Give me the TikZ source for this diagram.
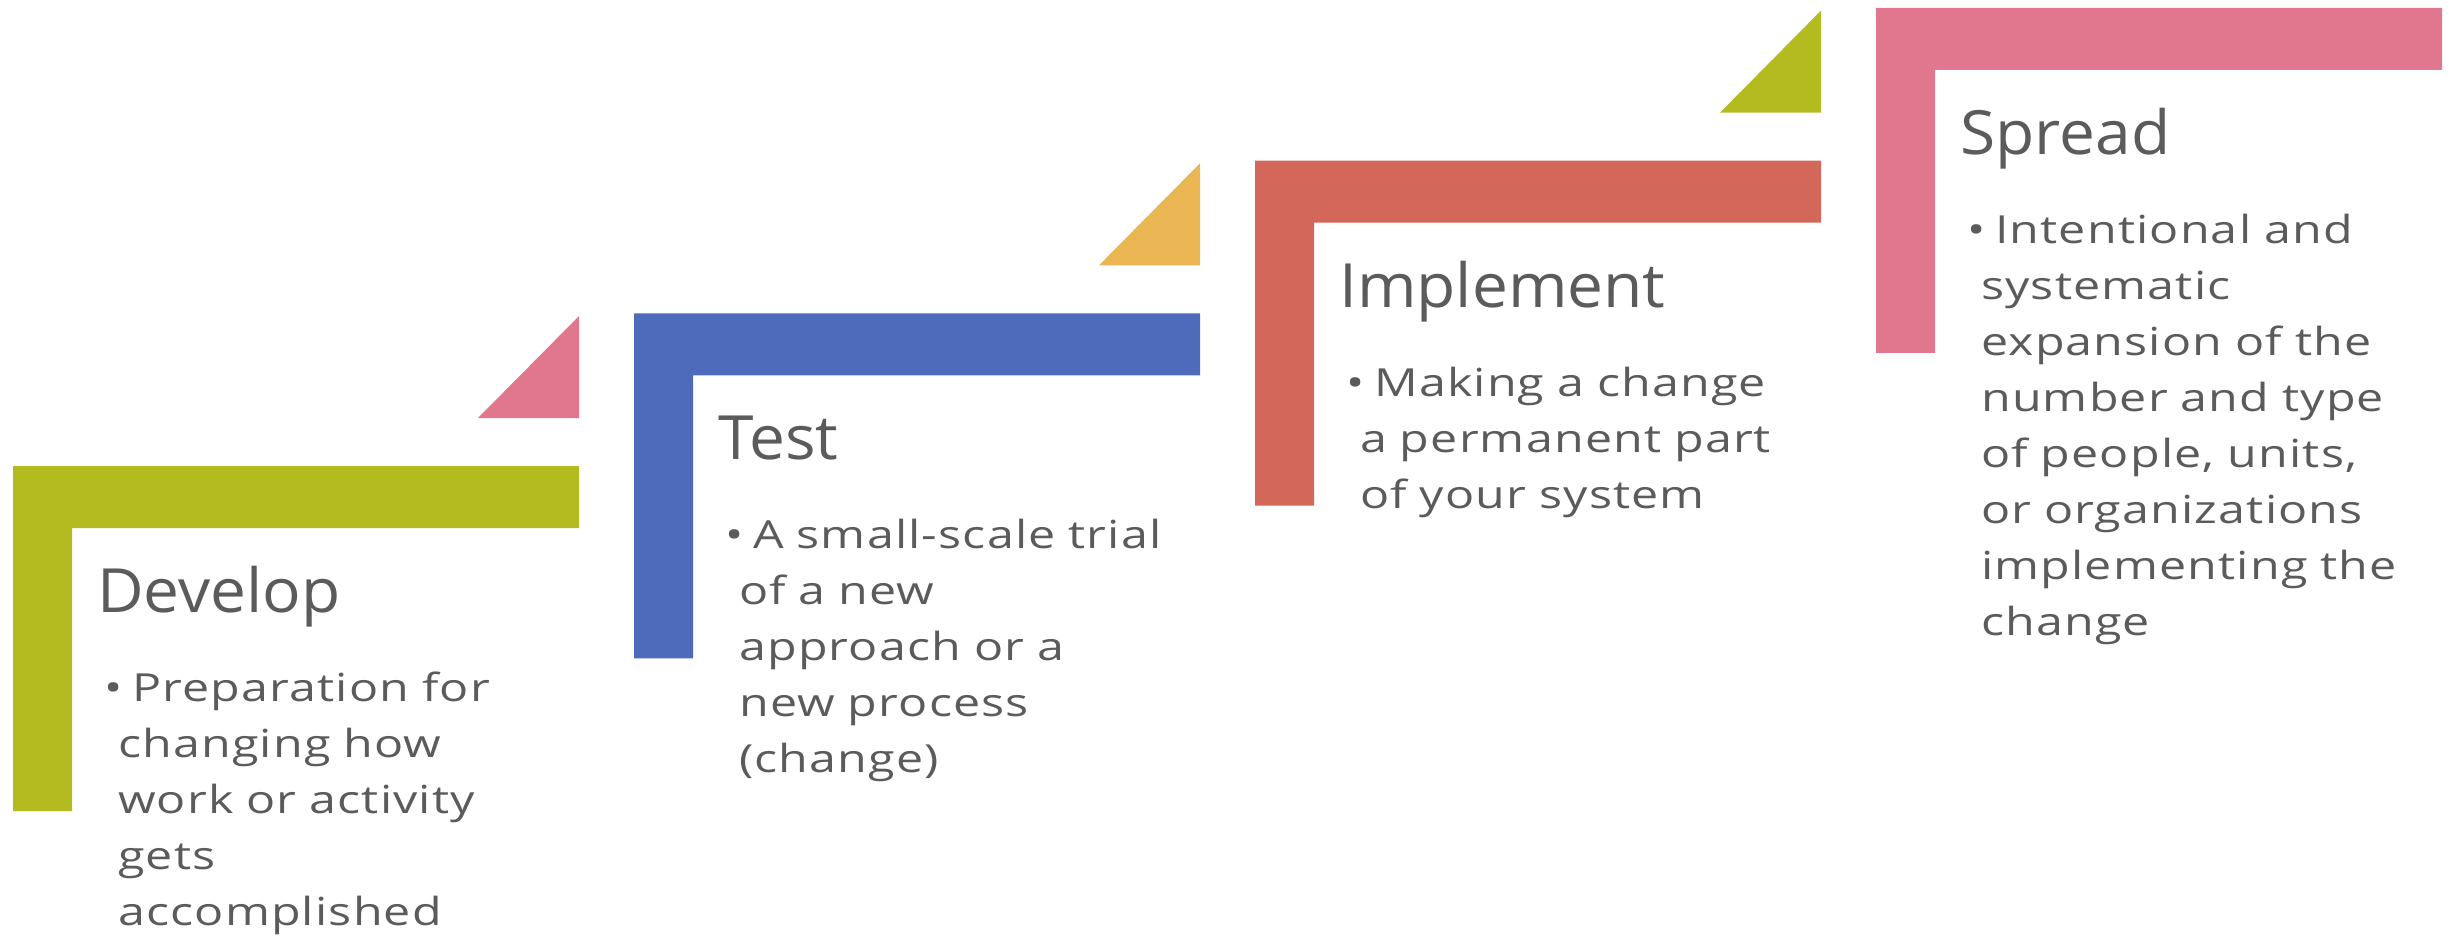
\documentclass[tikz,border=0pt]{standalone}
\usepackage{fontspec}
\setmainfont{Open Sans}
\newfontfamily\bodyfont{Open Sans}[FakeStretch=1.25, LetterSpace=3]
\newfontfamily\titlefont{Open Sans}[FakeStretch=1.05]
\definecolor{cgreen}{HTML}{B3BB20}
\definecolor{cblue}{HTML}{4E6ABA}
\definecolor{cred}{HTML}{D3675A}
\definecolor{cpink}{HTML}{E1768F}
\definecolor{corange}{HTML}{EAB654}
\definecolor{textgray}{HTML}{5B5B5B}
\newcommand{\lshape}[3]{%
  \begin{scope}[shift={(#1,#2)}]
    \fill[#3] (0,0) -- (566,0) -- (566,62) -- (59,62) -- (59,345) -- (0,345) -- cycle;
  \end{scope}}
\newcommand{\corner}[3]{%
  \begin{scope}[shift={(#1,#2)}]
    \fill[#3] (465,-48) -- (566,-48) -- (566,-150) -- cycle;
  \end{scope}}
\newcommand{\bul}{\hspace*{-14pt}\makebox[28pt][l]{•}}
\begin{document}
\begin{tikzpicture}[x=1pt,y=-1pt,
  titletext/.style={anchor=base west, inner sep=0pt, text=textgray,
    font=\titlefont\fontsize{61}{70}\selectfont},
  bodytext/.style={anchor=base west, inner sep=0pt, text=textgray,
    text width=700pt, align=left, font=\bodyfont\fontsize{38.7}{56}\selectfont}]
\useasboundingbox (0,0) rectangle (2453,942);
% stage shapes
\lshape{13}{466}{cgreen}
\corner{13}{466}{cpink}
\lshape{634}{313.3}{cblue}
\corner{634}{313.3}{corange}
\lshape{1255}{160.6}{cred}
\corner{1255}{160.6}{cgreen}
\lshape{1876}{7.9}{cpink}
% texts
\node[titletext] (t1) at (97,612) {Develop};
\node[bodytext] (b1) at (118,701) {\bul Preparation for\\changing how\\work or activity\\gets\\accomplished};
\node[titletext] (t2) at (718,459) {Test};
\node[bodytext] (b2) at (739,548) {\bul A small-scale trial\\of a new\\approach or a\\new process\\(change)};
\node[titletext] (t3) at (1339,307) {Implement};
\node[bodytext] (b3) at (1360,396) {\bul Making a change\\a permanent part\\of your system};
\node[titletext] (t4) at (1960,154) {Spread};
\node[bodytext] (b4) at (1981,243) {\bul Intentional and\\systematic\\expansion of the\\number and type\\of people, units,\\or organizations\\implementing the\\change};
\end{tikzpicture}
\end{document}
